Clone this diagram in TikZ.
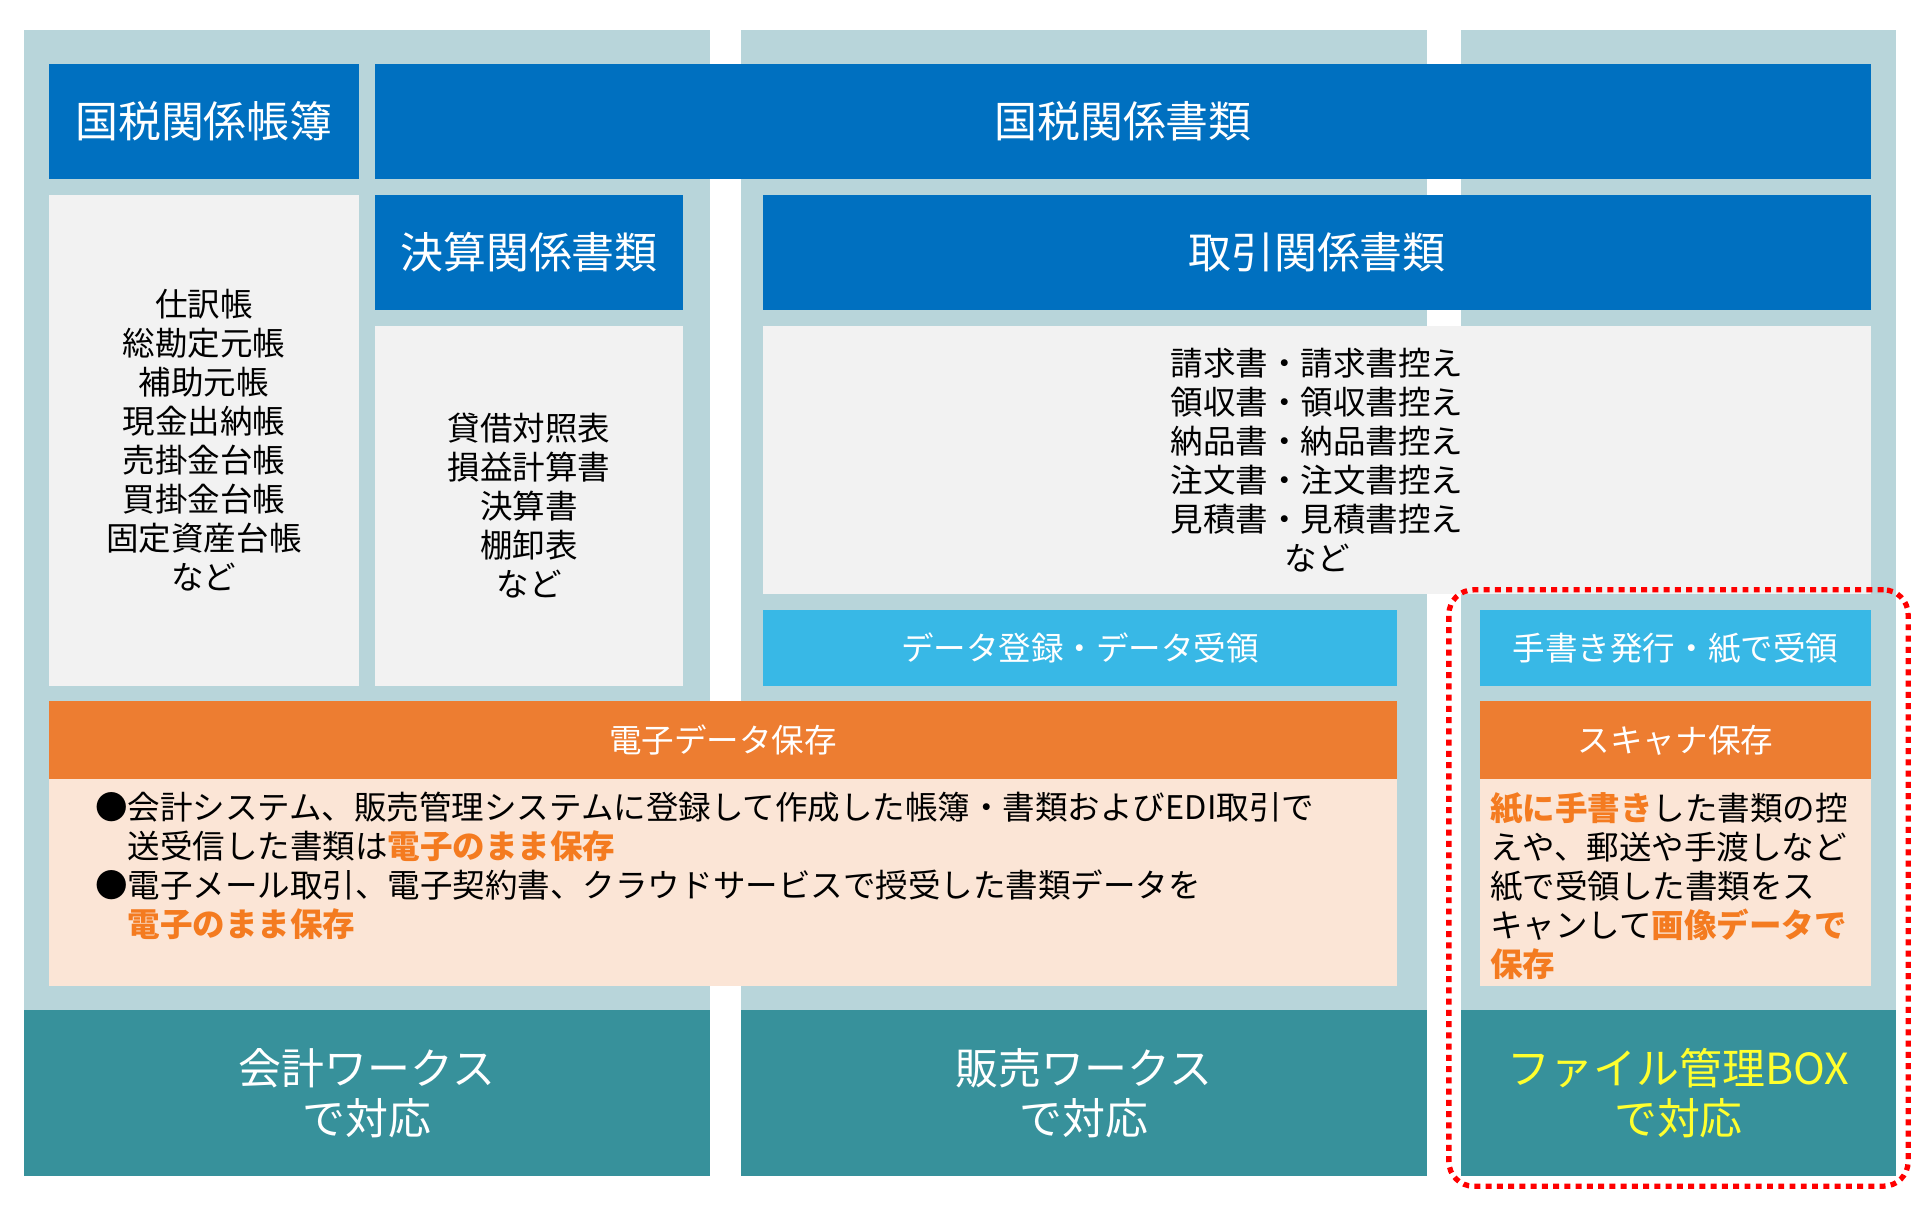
\documentclass[tikz,border=0pt]{standalone}
\usepackage{fontspec}
\setmainfont{Noto Sans CJK JP}

\definecolor{paleblue}{HTML}{B8D5DA}
\definecolor{kokuzei}{HTML}{0070C0}
\definecolor{listgray}{HTML}{F2F2F2}
\definecolor{skyblue}{HTML}{38B8E6}
\definecolor{hozon}{HTML}{ED7D31}
\definecolor{peach}{HTML}{FBE5D6}
\definecolor{workteal}{HTML}{37919B}
\definecolor{accent}{HTML}{F47B20}
\definecolor{boxyellow}{HTML}{FFFF2E}

\newcommand{\accenttext}[1]{\textcolor{accent}{\bfseries #1}}

\begin{document}
\begin{tikzpicture}[x=0.01cm, y=-0.01cm,
    big/.style={font=\fontsize{12.2}{14.2}\selectfont},
    small/.style={font=\fontsize{9.25}{11.1}\selectfont},
    area/.style={inner sep=0pt, outer sep=0pt},
    column/.style={area, fill=paleblue},
    headbox/.style={area, fill=kokuzei, text=white, big},
    listbox/.style={area, fill=listgray, align=center, small},
    flowbox/.style={area, fill=skyblue, text=white, small},
    savehead/.style={area, fill=hozon, text=white, small},
    savebody/.style={area, fill=peach},
    workbox/.style={area, fill=workteal, text=white, big, align=center},
    bodytext/.style={area, small, align=left, anchor=west},
    scanframe/.style={area, draw=red, line width=1.5pt, dash pattern=on 1.7pt off 1.5pt, rounded corners=7pt}]

    \useasboundingbox[fill=white] (0,0) rectangle (1920,1212);

    % columns
    \node[column, minimum width=6.86cm, minimum height=9.80cm] (col-kaikei) at (367,520) {};
    \node[column, minimum width=6.86cm, minimum height=9.80cm] (col-hanbai) at (1084,520) {};
    \node[column, minimum width=4.35cm, minimum height=9.80cm] (col-file) at (1678.5,520) {};

    % top headers
    \node[headbox, minimum width=3.10cm, minimum height=1.15cm] (choubo) at (204,121.5) {国税関係帳簿};
    \node[headbox, minimum width=14.96cm, minimum height=1.15cm] (shorui) at (1123,121.5) {国税関係書類};
    \node[headbox, minimum width=3.08cm, minimum height=1.15cm] (kessan) at (529,252.5) {決算関係書類};
    \node[headbox, minimum width=11.08cm, minimum height=1.15cm] (torihiki) at (1317,252.5) {取引関係書類};

    % lists
    \node[listbox, minimum width=3.10cm, minimum height=4.91cm] (choubo-list) at (204,440.5) {仕訳帳\\総勘定元帳\\補助元帳\\現金出納帳\\売掛金台帳\\買掛金台帳\\固定資産台帳\\など};
    \node[listbox, minimum width=3.08cm, minimum height=3.60cm] (kessan-list) at (529,506) {貸借対照表\\損益計算書\\決算書\\棚卸表\\など};
    \node[listbox, minimum width=11.08cm, minimum height=2.68cm] (torihiki-list) at (1317,460) {請求書・請求書控え\\領収書・領収書控え\\納品書・納品書控え\\注文書・注文書控え\\見積書・見積書控え\\など};

    \node[flowbox, minimum width=6.34cm, minimum height=0.76cm] (data) at (1080,648) {データ登録・データ受領};
    \node[flowbox, minimum width=3.91cm, minimum height=0.76cm] (tegaki) at (1675.5,648) {手書き発行・紙で受領};

    % saving
    \node[savehead, minimum width=13.48cm, minimum height=0.78cm] (denshi) at (723,740) {電子データ保存};
    \node[savebody, minimum width=13.48cm, minimum height=2.07cm] (denshi-body) at (723,882.5) {};
    \node[bodytext] (denshi-text) at (95,866) {●会計システム、販売管理システムに登録して作成した帳簿・書類およびEDI取引で\\
        \hspace*{1em}送受信した書類は\accenttext{電子のまま保存}\\
        ●電子メール取引、電子契約書、クラウドサービスで授受した書類データを\\
        \hspace*{1em}\accenttext{電子のまま保存}};

    \node[savehead, minimum width=3.91cm, minimum height=0.78cm] (scan) at (1675.5,740) {スキャナ保存};
    \node[savebody, minimum width=3.91cm, minimum height=2.07cm] (scan-body) at (1675.5,882.5) {};
    \node[bodytext] (scan-text) at (1490,886) {\accenttext{紙に手書き}した書類の控\\
        えや、郵送や手渡しなど\\
        紙で受領した書類をス\\
        キャンして\accenttext{画像データで}\\
        \accenttext{保存}};

    % products
    \node[workbox, minimum width=6.86cm, minimum height=1.66cm] (kaikei) at (367,1093) {会計ワークス\\で対応};
    \node[workbox, minimum width=6.86cm, minimum height=1.66cm] (hanbai) at (1084,1093) {販売ワークス\\で対応};
    \node[workbox, text=boxyellow, minimum width=4.35cm, minimum height=1.66cm] (filebox) at (1678.5,1093) {ファイル管理BOX\\で対応};

    \node[scanframe, minimum width=4.59cm, minimum height=5.96cm] (frame) at (1678.5,888) {};
\end{tikzpicture}
\end{document}
